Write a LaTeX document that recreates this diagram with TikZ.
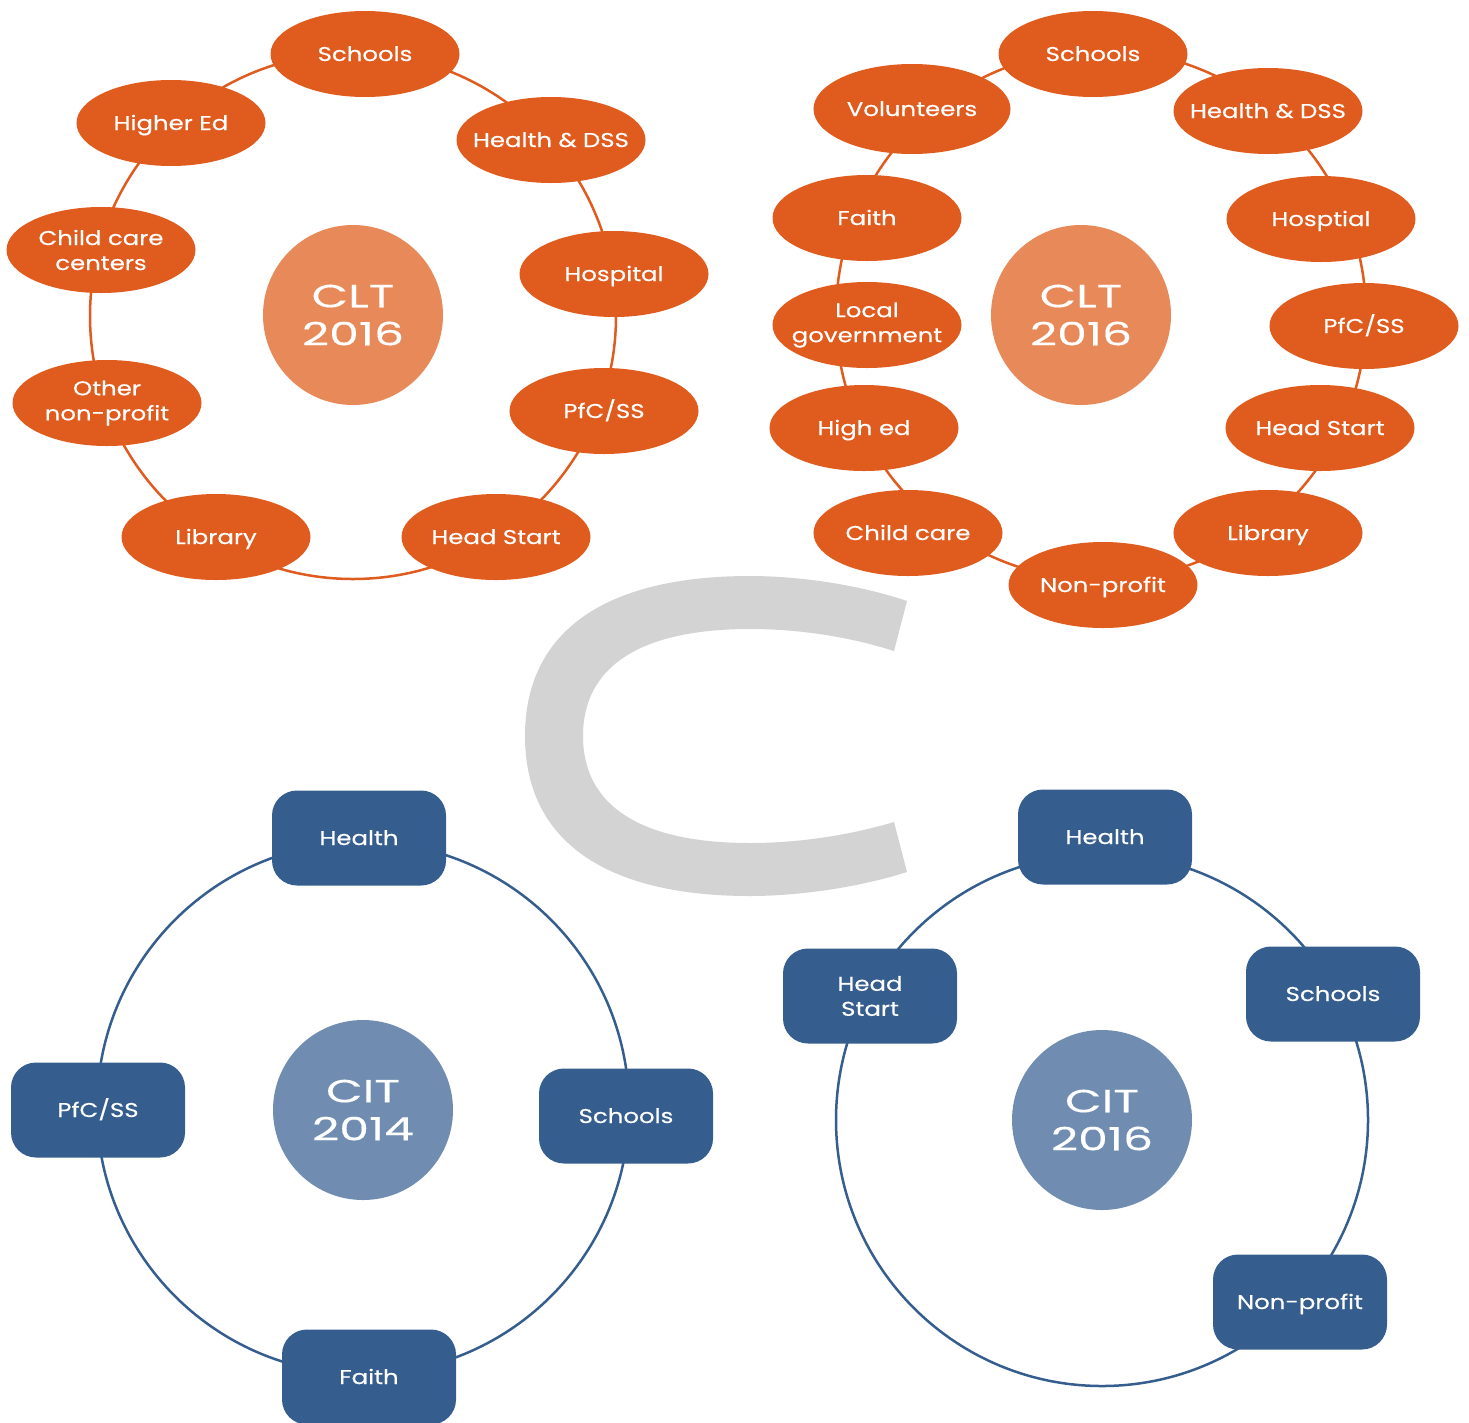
\documentclass[tikz,border=0pt]{standalone}
\usepackage{fontspec}
\setmainfont{Poppins}
\newfontfamily\labelfont{Poppins}[FakeStretch=1.22, FakeBold=0.4]
\newfontfamily\hubfont{Poppins}[FakeStretch=1.48, FakeBold=0.3]
\usetikzlibrary{shapes.geometric}

\definecolor{orangeNode}{RGB}{224,91,30}
\definecolor{orangeHub}{RGB}{232,137,89}
\definecolor{blueNode}{RGB}{53,94,143}
\definecolor{blueHub}{RGB}{112,141,177}
\definecolor{bigC}{RGB}{211,211,211}

\tikzset{
  ringO/.style={circle, draw=orangeNode, line width=2.5pt, inner sep=0pt},
  ringB/.style={circle, draw=blueNode, line width=2.5pt, inner sep=0pt},
  % the ellipse keeps its fixed size whatever the width of its label
  oval/.style={ellipse, fill=orangeNode, text=white,
    inner xsep=-50pt, inner ysep=-30pt,
    minimum width=189pt, minimum height=86pt, align=center,
    font=\labelfont\fontsize{20}{25}\selectfont},
  tile/.style={rectangle, rounded corners=25pt, fill=blueNode, text=white,
    inner sep=0pt, minimum width=174pt, minimum height=95pt, align=center,
    font=\labelfont\fontsize{20}{25}\selectfont},
  oneline/.style={text height=16pt, text depth=2pt},
  twoline/.style={yshift=-2pt},
  hubO/.style={circle, fill=orangeHub, text=white, inner sep=0pt,
    minimum size=180pt, align=center, font=\hubfont\fontsize{32}{38}\selectfont},
  hubB/.style={circle, fill=blueHub, text=white, inner sep=0pt,
    minimum size=180pt, align=center, font=\hubfont\fontsize{32}{38}\selectfont}
}

\begin{document}
\begin{tikzpicture}[x=1pt, y=-1pt]
\useasboundingbox (0,0) rectangle (1469,1422);

% large grey C in the middle
\fill[bigC] (907,601) .. controls (860,585) and (800,576) .. (750,576)
  .. controls (604,576) and (525,632) .. (525,736)
  .. controls (525,840) and (604,896) .. (750,896)
  .. controls (800,896) and (860,887) .. (907,872)
  -- (894,822)
  .. controls (850,835) and (800,843) .. (750,843)
  .. controls (641,843) and (583,806) .. (583,736)
  .. controls (583,666) and (641,629) .. (750,629)
  .. controls (800,629) and (850,637) .. (894,651)
  -- cycle;

% ---------- CLT 2016 (nine partners) ----------
\node[ringO, minimum size=526pt] (ringA) at (353,316) {};
\node[hubO] (cltA) at (353,315) {CLT\\2016};
\node[oval, oneline] (a1) at (365,54)  {Schools};
\node[oval, oneline] (a2) at (551,140) {Health \& DSS};
\node[oval, oneline] (a3) at (614,274) {Hospital};
\node[oval, oneline] (a4) at (604,411) {PfC/SS};
\node[oval, oneline] (a5) at (496,537) {Head Start};
\node[oval, oneline] (a6) at (216,537) {Library};
\node[oval, twoline] (a7) at (107,401) {Other\\non-profit};
\node[oval, twoline] (a8) at (101,248) {Child care\\centers};
\node[oval, oneline] (a9) at (171,123) {Higher Ed};

% ---------- CLT 2016 (thirteen partners) ----------
\node[ringO, minimum size=530pt] (ringB) at (1101,315) {};
\node[hubO] (cltB) at (1081,315) {CLT\\2016};
\node[oval, oneline] (b1)  at (1093,54)  {Schools};
\node[oval, oneline] (b2)  at (1268,111) {Health \& DSS};
\node[oval, oneline] (b3)  at (1321,219) {Hosptial};
\node[oval, oneline] (b4)  at (1364,326) {PfC/SS};
\node[oval, oneline] (b5)  at (1320,428) {Head Start};
\node[oval, oneline] (b6)  at (1268,533) {Library};
\node[oval, oneline] (b7)  at (1103,585) {Non-profit};
\node[oval, oneline] (b8)  at (908,533)  {Child care};
\node[oval, oneline] (b9)  at (864,428)  {High ed};
\node[oval, twoline] (b10) at (867,323)  {Local\\government};
\node[oval, oneline] (b11) at (867,218)  {Faith};
\node[oval, oneline, minimum width=197pt, minimum height=90pt] (b12) at (912,109) {Volunteers};

% ---------- CIT 2014 ----------
\node[ringB, minimum size=532pt] (ringC) at (363,1108) {};
\node[hubB] (citA) at (363,1110) {CIT\\2014};
\node[tile, oneline] (c1) at (359,838)  {Health};
\node[tile, oneline] (c2) at (626,1116) {Schools};
\node[tile, oneline] (c3) at (369,1377) {Faith};
\node[tile, oneline] (c4) at (98,1110)  {PfC/SS};

% ---------- CIT 2016 ----------
\node[ringB, minimum size=532pt] (ringD) at (1102,1120) {};
\node[hubB] (citB) at (1102,1120) {CIT\\2016};
\node[tile, oneline] (d1) at (1105,837)  {Health};
\node[tile, oneline] (d2) at (1333,994)  {Schools};
\node[tile, oneline] (d3) at (1300,1302) {Non-profit};
\node[tile] (d4) at (870,996)   {Head\\Start};

\end{tikzpicture}
\end{document}
